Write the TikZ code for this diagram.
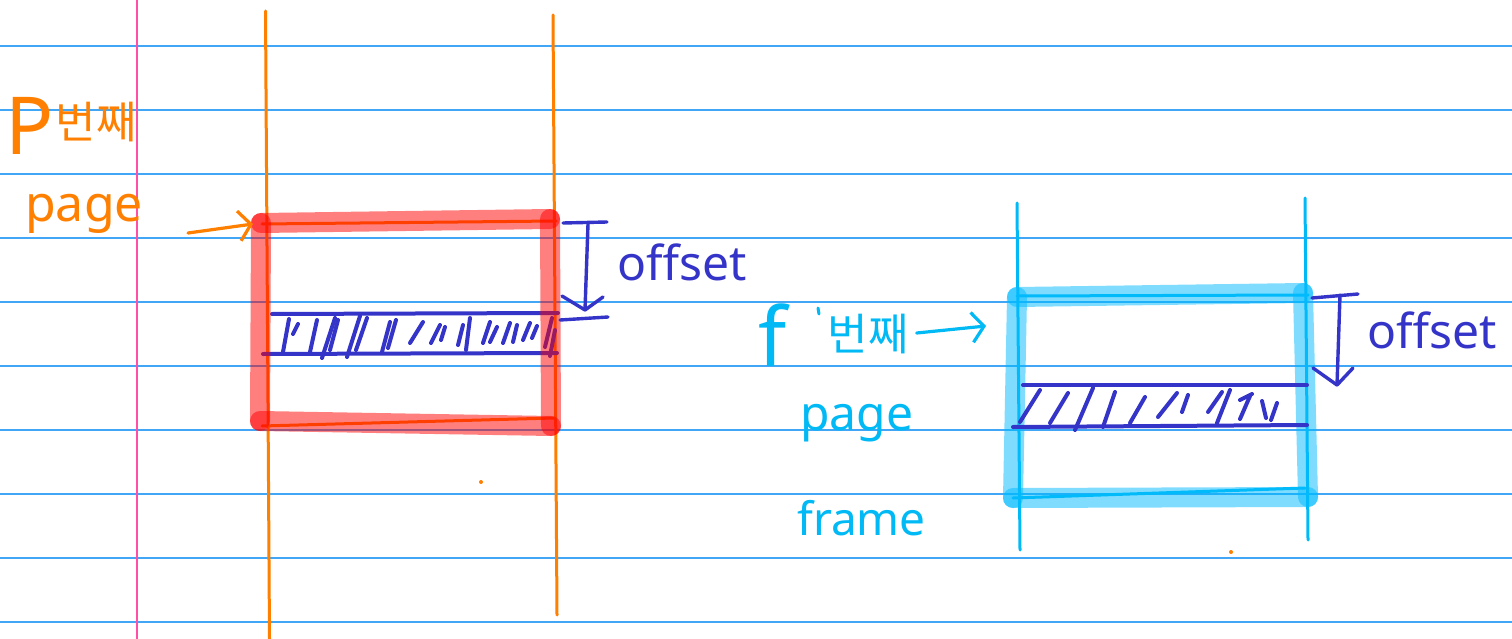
\documentclass[tikz,border=0pt]{standalone}
\usepackage{fontspec}
\setmainfont{Noto Sans}
\newfontfamily\kr{Noto Sans CJK KR}
\usetikzlibrary{arrows.meta}
\definecolor{rulecol}{RGB}{64,166,245}
\definecolor{margincol}{RGB}{255,80,165}
\definecolor{ink}{RGB}{255,128,0}
\definecolor{pen}{RGB}{52,52,200}
\definecolor{sky}{RGB}{0,185,245}
\definecolor{hlred}{RGB}{255,0,0}
\definecolor{hlsky}{RGB}{0,187,255}
\begin{document}
\begin{tikzpicture}[x=1pt,y=-1pt,line cap=round,line join=round,
  ruled/.style={rulecol,line width=1.8},
  frameline/.style={line width=3},
  marker/.style={line width=20,draw opacity=0.5},
  hatch/.style={pen,line width=4},
  dimline/.style={pen,line width=3.4},
  label/.style={inner sep=0pt,anchor=base west},
  big/.style={font=\fontsize{48}{48}\selectfont},
  korean/.style={inner sep=0pt,font=\kr\fontsize{44}{44}\selectfont},
  pointer/.style={line width=3.2,-{Straight Barb[length=12pt,width=30pt]}}]
\useasboundingbox[fill=white] (0,0) rectangle (1512,639);

% ruled notebook paper
\foreach \y in {46,110,...,622} \draw[ruled] (0,\y) -- (1512,\y);
\draw[margincol,line width=2] (137,0) -- (137,639);

% ---------- physical memory side (orange / red) ----------
\draw[ink,frameline] (265.5,11) -- (269.5,639);
\draw[ink,frameline] (553,15) -- (557,615);
\draw[ink,frameline] (262,224) -- (556,221);
\draw[ink,frameline] (262,426) -- (554,418);

% hatched block inside the page
\draw[hatch] (272,314) -- (558,313);
\draw[hatch] (263,354) -- (557,353);
\foreach \a/\b/\c/\d in {283/352/289/319, 293/334/298/324, 310/352/317/320,
  322/358/335/318, 330/350/338/320, 347/357/360/316, 356/350/367/318,
  382/352/390/322, 388/348/396/320, 410/343/423/322, 431/343/440/325,
  441/340/445/327, 458/345/463/325, 466/350/470/318, 483/343/490/322,
  490/342/497/327, 503/343/510/323, 513/342/517/325, 523/340/530/323,
  532/338/537/326, 545/347/552/318, 550/356/555/330}
  \draw[hatch] (\a,\b) -- (\c,\d);

% red highlighter box, one stroke per side
\draw[hlred,marker] (261,223) -- (550,219);
\draw[hlred,marker] (550,219) -- (551,426);
\draw[hlred,marker] (551,426) -- (260,421);
\draw[hlred,marker] (260,421) -- (261,223);

% offset marker
\coordinate (ltop) at (588,224);
\coordinate (lbot) at (585,310);
\draw[dimline] (563,223) -- (607,222);
\draw[dimline] (ltop) -- (lbot);
\draw[dimline] (562,296) -- (lbot) -- (603,297);
\draw[dimline] (560,320) -- (608,317);
\node[label,big,pen] (loff) at (617,280) {offset};

% labels
\node[label,ink,font=\fontsize{80}{80}\selectfont] (pnum) at (5,155) {P};
\node[korean,ink] (pkr) at (96,122) {번째};
\node[label,ink,font=\fontsize{50}{50}\selectfont] (pword) at (25,222) {page};
\coordinate (ptail) at (188,233);
\coordinate (ptip) at (253,224);
\draw[ink,pointer] (ptail) -- (ptip);

% ---------- frame side (cyan) ----------
\draw[sky,frameline] (1017,203) -- (1020,550);
\draw[sky,frameline] (1305,198) -- (1308,540);
\draw[sky,frameline] (1017,296) -- (1308,295);
\draw[sky,frameline] (1013,498) -- (1305,488);

\draw[hlsky,marker] (1017,297) -- (1303,293);
\draw[hlsky,marker] (1303,293) -- (1308,497);
\draw[hlsky,marker] (1308,497) -- (1013,498);
\draw[hlsky,marker] (1013,498) -- (1017,297);

\draw[hatch] (1023,385) -- (1307,385);
\draw[hatch] (1013,427) -- (1307,425);
\foreach \a/\b/\c/\d in {1020/422/1040/390, 1050/423/1068/393, 1075/430/1093/388,
  1103/427/1115/392, 1130/423/1145/397, 1158/417/1177/393, 1182/412/1188/395,
  1208/412/1222/392, 1217/423/1230/390, 1240/400/1252/394, 1250/396/1240/419,
  1262/401/1266/418, 1277/403/1271/420}
  \draw[hatch] (\a,\b) -- (\c,\d);

\coordinate (rtop) at (1340,295);
\coordinate (rbot) at (1337,385);
\draw[dimline] (1312,298) -- (1358,294);
\draw[dimline] (rtop) -- (rbot);
\draw[dimline] (1313,368) -- (rbot) -- (1353,368);
\node[label,big,pen] (roff) at (1367,348) {offset};

\node[label,sky,font=\fontsize{82}{82}\selectfont] (fnum) at (758,366) {f};
\draw[sky,line width=3] (818,308) -- (819,314);
\node[korean,sky] (fkr) at (868,334) {번째};
\coordinate (ftip) at (986,326);
\draw[sky,pointer] (fkr.east) ++(8,-1) coordinate (ftail) (ftail) -- (ftip);
\node[label,sky,big] (fpage) at (800,430) {page};
\node[label,sky,font=\fontsize{46}{46}\selectfont] (fframe) at (797,535) {frame};

% stray pen dots
\fill[ink] (481,482) circle (2);
\fill[ink] (1231,552) circle (2);
\end{tikzpicture}
\end{document}
